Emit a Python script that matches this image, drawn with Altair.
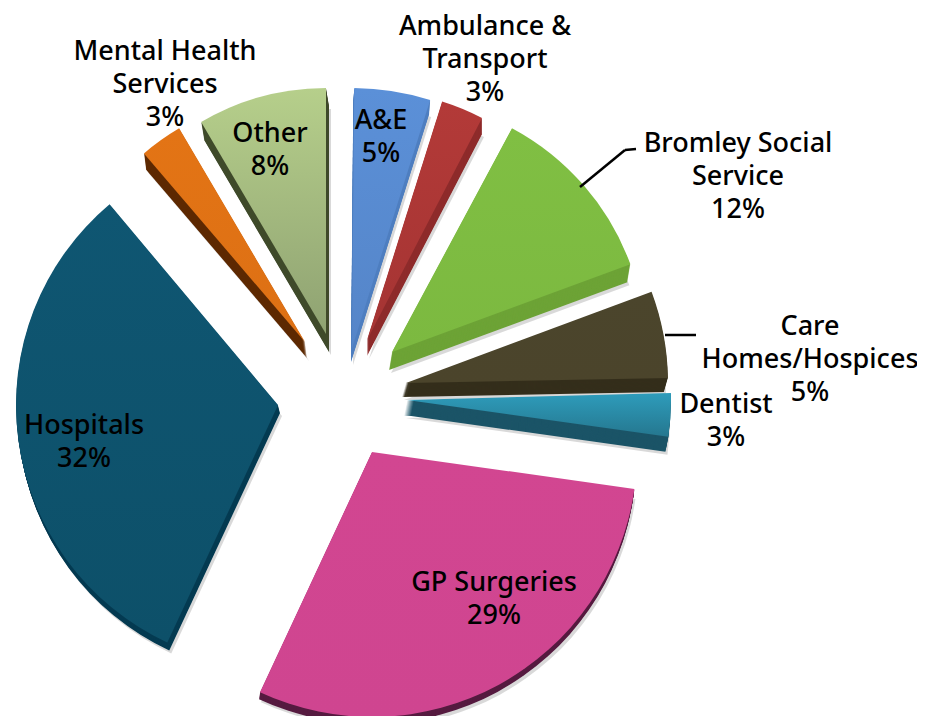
import math
import altair as alt
import pandas as pd

names = ["A&E", "Ambulance & Transport", "Bromley Social Service", "Care Homes/Hospices",
         "Dentist", "GP Surgeries", "Hospitals", "Mental Health Services", "Other"]
# angular extent of each slice (degrees clockwise from 12 o'clock)
start_deg = [0.5, 17.5, 28.2, 69.6, 88.5, 98, 205, 319.5, 329.5]
end_deg = [17.5, 27.4, 69.8, 88.9, 98, 205, 320, 329.5, 360]
label_lines = ["A&E\n5%", "Ambulance &\nTransport\n3%", "Bromley Social\nService\n12%",
               "Care\nHomes/Hospices\n5%", "Dentist\n3%", "GP Surgeries\n29%",
               "Hospitals\n32%", "Mental Health\nServices\n3%", "Other\n8%"]

df = pd.DataFrame({"name": names, "start": start_deg, "end": end_deg, "label": label_lines})

M = 8  # page margin
# per-slice drawing style: apex x, apex y, radius, depth dx, depth dy, top colour, bottom colour, side colour
STYLE = {
    "A&E": (352, 348, 260, -1, 14, "#5B90D8", "#5585C8", "#4F7FC0"),
    "Ambulance & Transport": (367, 340, 250, 0, 16, "#B33A38", "#A53433", "#8E2B2B"),
    "Bromley Social Service": (392, 352, 254, -3, 18, "#80BF43", "#7CB940", "#6DA336"),
    "Care Homes/Hospices": (406, 383, 262, -4, 14, "#4B452C", "#4B442B", "#342E1B"),
    "Dentist": (407, 400, 264, -3, 15, "#2E9CBB", "#25778F", "#1B5467"),
    "GP Surgeries": (372, 452, 265, -1, 7, "#D24691", "#CF4590", "#561B40"),
    "Hospitals": (278, 405, 262, 2, 8, "#0F5672", "#0D5069", "#053B52"),
    "Mental Health Services": (305, 342, 248, 2, 16, "#E37415", "#DD7014", "#5E2A03"),
    "Other": (326, 334, 246, 3, 18, "#B6CF8B", "#8FA272", "#404B2C"),
}
# first-line centres of the labels in page pixels
LABEL_POS = {
    "A&E": (381, 121), "Ambulance & Transport": (485, 27), "Bromley Social Service": (738, 144),
    "Care Homes/Hospices": (810, 327), "Dentist": (726, 405), "GP Surgeries": (494, 583),
    "Hospitals": (84, 426), "Mental Health Services": (165, 52), "Other": (270, 134),
}
LEADERS = [((580, 187), (625, 150)), ((625, 150), (636, 149)), ((665, 335), (696, 335))]

theta = alt.Theta("start:Q", scale=alt.Scale(domain=[0, 360], range=[0, 2 * math.pi]))
theta2 = alt.Theta2("end:Q")
base = alt.Chart(df)
layers = []

for n in names:
    ax, ay, r, dx, dy, top, bottom, side = STYLE[n]
    one = base.transform_filter(alt.datum.name == n)
    steps = max(abs(dx), abs(dy))
    layers.append(one.mark_arc(outerRadius=r, fill="#000000", opacity=0.15).encode(
        theta=theta, theta2=theta2, x=alt.value(ax + dx + 2 - M), y=alt.value(ay + dy + 3 - M)))
    for k in range(steps, 0, -1):
        layers.append(one.mark_arc(outerRadius=r, fill=side).encode(
            theta=theta, theta2=theta2,
            x=alt.value(ax + dx * k / steps - M), y=alt.value(ay + dy * k / steps - M)))
    grad = alt.Gradient(gradient="linear", x1=0, y1=0, x2=0, y2=1,
                        stops=[alt.GradientStop(color=top, offset=0),
                               alt.GradientStop(color=bottom, offset=1)])
    layers.append(one.mark_arc(outerRadius=r, fill=grad).encode(
        theta=theta, theta2=theta2, x=alt.value(ax - M), y=alt.value(ay - M)))

for (p, q) in LEADERS:
    layers.append(base.transform_filter(alt.datum.name == "A&E")
                  .mark_rule(color="#000000", strokeWidth=2.5).encode(
        x=alt.value(p[0] - M), y=alt.value(p[1] - M),
        x2=alt.value(q[0] - M), y2=alt.value(q[1] - M)))

for n in names:
    lx, ly = LABEL_POS[n]
    layers.append(base.transform_filter(alt.datum.name == n)
                  .mark_text(font="Noto Sans", fontSize=27, fontWeight=500, color="#000000",
                             align="center", baseline="middle", lineBreak="\n", lineHeight=33)
                  .encode(text="label:N", x=alt.value(lx - M), y=alt.value(ly - M)))

chart = alt.layer(*layers).properties(
    width=909, height=708, padding=0, autosize=alt.AutoSizeParams(type="none"), background="#FFFFFF"
).configure_view(stroke=None)

chart.save("out.html", embed_options={"renderer": "svg", "actions": False})
